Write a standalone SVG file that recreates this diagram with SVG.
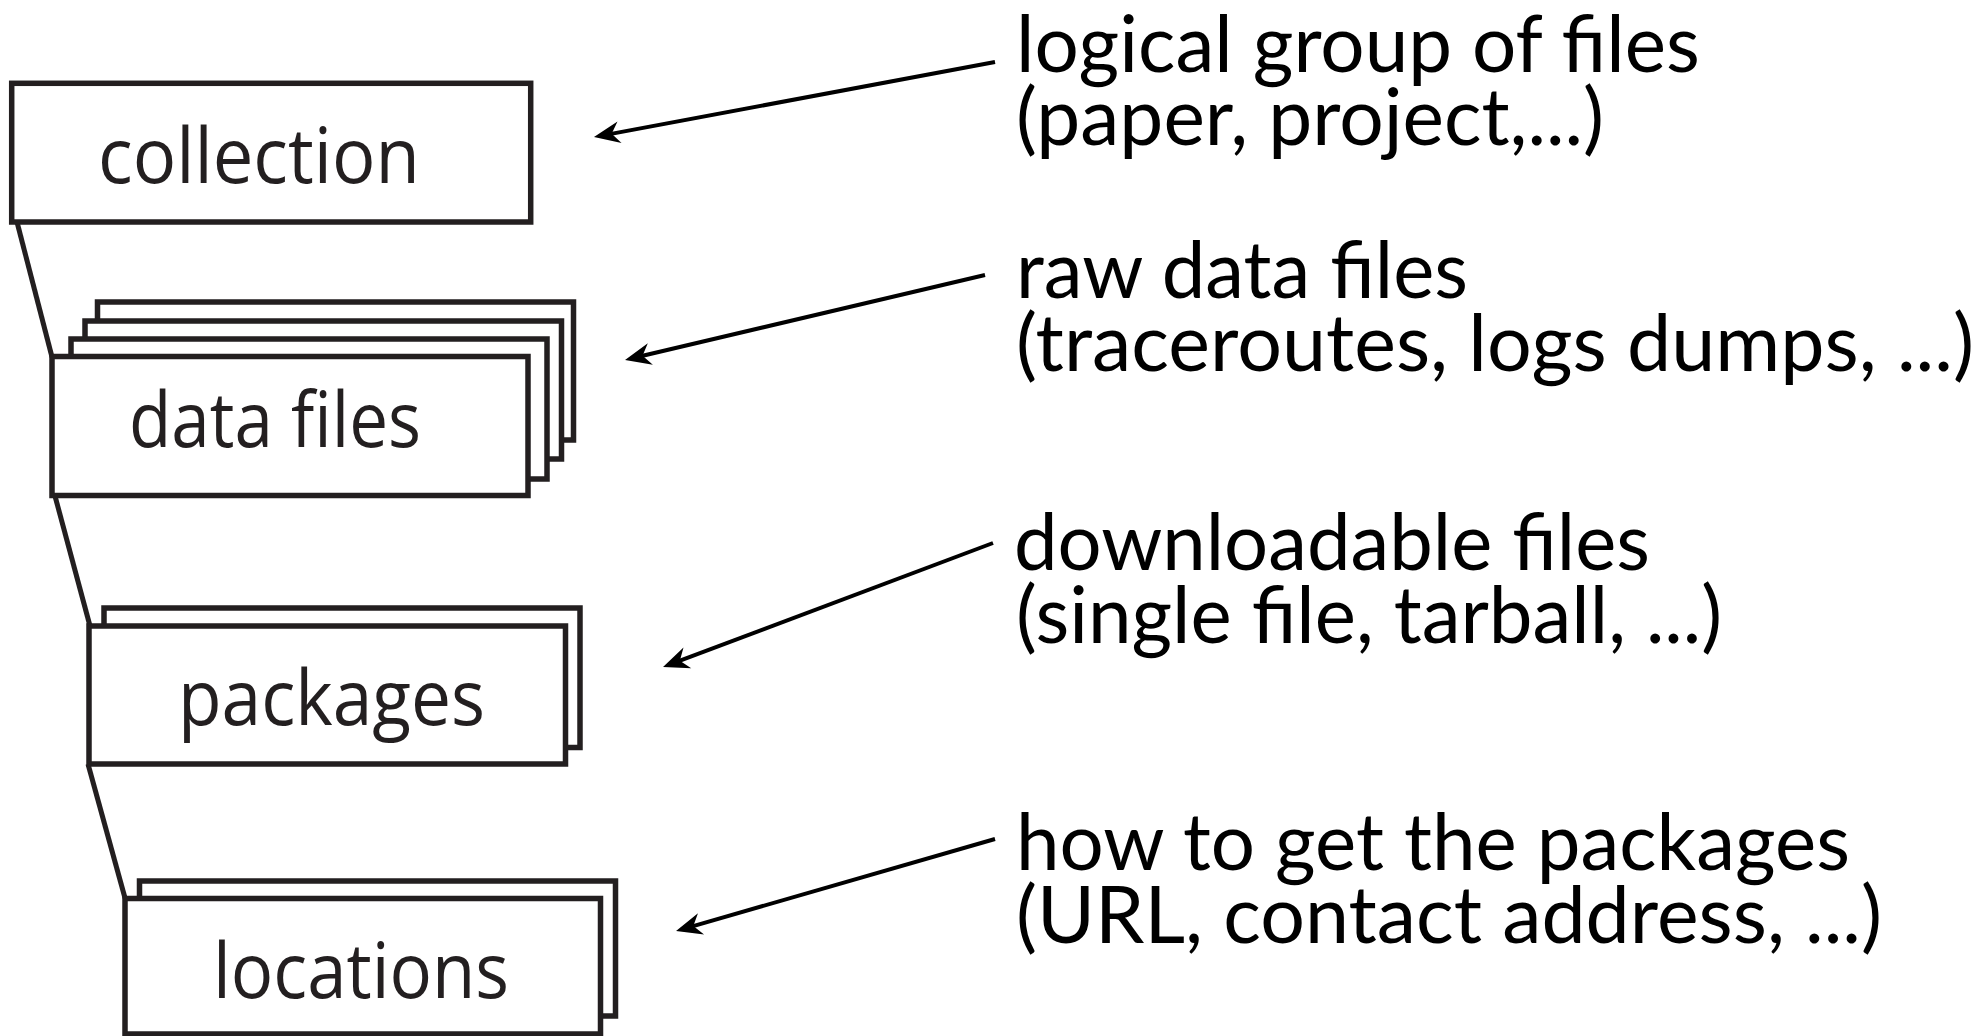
<svg xmlns="http://www.w3.org/2000/svg" width="1980" height="1036" viewBox="0 0 1980 1036">
  <style>
    .box { fill: #ffffff; stroke: #231f20; stroke-width: 5.5; }
    .lbl { font-family: "Open Sans", "Noto Sans", sans-serif; font-size: 77px; fill: #231f20; }
    .note { font-family: Lato, "Liberation Sans", sans-serif; font-size: 80px; fill: #000000; }
    .link { stroke: #231f20; stroke-width: 5; fill: none; }
    .arrow { stroke: #000000; stroke-width: 4; fill: none; marker-end: url(#head); }
  </style>
  <defs>
    <marker id="head" markerUnits="userSpaceOnUse" viewBox="-12 -13 30 26" markerWidth="30" markerHeight="26" refX="0" refY="0" orient="auto">
      <path d="M16,0 L-10,-11 L-2,0 L-10,11 Z" fill="#000000"/>
    </marker>
  </defs>
  <rect width="1980" height="1036" fill="#ffffff"/>

  <g id="connectors">
    <line class="link" x1="17" y1="222" x2="52" y2="357"/>
    <line class="link" x1="55" y1="496" x2="90" y2="626"/>
    <line class="link" x1="88" y1="764" x2="125" y2="898"/>
    <line class="arrow" x1="995" y1="62" x2="609.7" y2="134.1"/>
    <line class="arrow" x1="985" y1="275" x2="640.6" y2="356.3"/>
    <line class="arrow" x1="993" y1="543" x2="678" y2="661.4"/>
    <line class="arrow" x1="995" y1="839" x2="691.4" y2="926.6"/>
  </g>

  <g id="collection">
    <rect class="box" x="11.7" y="83.3" width="519" height="138.7"/>
    <text class="lbl" x="98" y="183" textLength="322" lengthAdjust="spacingAndGlyphs">collection</text>
  </g>

  <g id="data-files">
    <rect class="box" x="97.5" y="302" width="476" height="138"/>
    <rect class="box" x="85" y="321" width="476.5" height="138"/>
    <rect class="box" x="71" y="339" width="476" height="140"/>
    <rect class="box" x="52" y="356.5" width="476" height="139"/>
    <text class="lbl" x="129" y="447" textLength="292" lengthAdjust="spacingAndGlyphs">data files</text>
  </g>

  <g id="packages">
    <rect class="box" x="104" y="608" width="476" height="139.5"/>
    <rect class="box" x="89" y="626" width="476.5" height="138"/>
    <text class="lbl" x="178" y="725" textLength="307" lengthAdjust="spacingAndGlyphs">packages</text>
  </g>

  <g id="locations">
    <rect class="box" x="139.5" y="881" width="476" height="135"/>
    <rect class="box" x="125" y="898.5" width="475.5" height="135.5"/>
    <text class="lbl" x="213" y="998" textLength="296" lengthAdjust="spacingAndGlyphs">locations</text>
  </g>

  <g id="note-collection">
    <text class="note" x="1016" y="72" textLength="684" lengthAdjust="spacingAndGlyphs">logical group of files</text>
    <text class="note" x="1016" y="145" textLength="588" lengthAdjust="spacingAndGlyphs">(paper, project,...)</text>
  </g>
  <g id="note-data-files">
    <text class="note" x="1016" y="298" textLength="452" lengthAdjust="spacingAndGlyphs">raw data files</text>
    <text class="note" x="1016" y="371" textLength="958" lengthAdjust="spacingAndGlyphs">(traceroutes, logs dumps, ...)</text>
  </g>
  <g id="note-packages">
    <text class="note" x="1014" y="570" textLength="636" lengthAdjust="spacingAndGlyphs">downloadable files</text>
    <text class="note" x="1016" y="643" textLength="706" lengthAdjust="spacingAndGlyphs">(single file, tarball, ...)</text>
  </g>
  <g id="note-locations">
    <text class="note" x="1016" y="870" textLength="834" lengthAdjust="spacingAndGlyphs">how to get the packages</text>
    <text class="note" x="1016" y="943" textLength="866" lengthAdjust="spacingAndGlyphs">(URL, contact address, ...)</text>
  </g>
</svg>
